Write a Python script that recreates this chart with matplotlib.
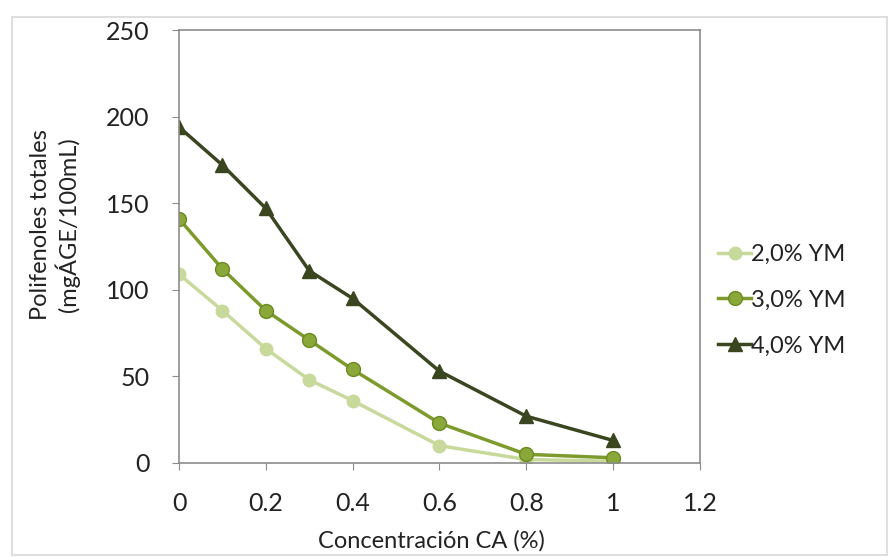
import matplotlib.pyplot as plt
from matplotlib.patches import Rectangle

# Data
conc = [0, 0.1, 0.2, 0.3, 0.4, 0.6, 0.8, 1.0]
ym_2 = [109, 88, 66, 48, 36, 10, 2, 1]
ym_3 = [141, 112, 88, 71, 54, 23, 5, 3]
ym_4 = [194, 172, 147, 111, 95, 53, 27, 13]
labels = ['2,0% YM', '3,0% YM', '4,0% YM']
xticks = [0, 0.2, 0.4, 0.6, 0.8, 1, 1.2]
xticklabels = ['0', '0.2', '0.4', '0.6', '0.8', '1', '1.2']
yticks = [0, 50, 100, 150, 200, 250]

plt.rcParams['font.family'] = ['Lato', 'DejaVu Sans']

fig = plt.figure(figsize=(8.92, 5.57), dpi=100)
ax = fig.add_axes([0.2007, 0.1688, 0.5840, 0.7772])

ax.plot(conc, ym_2, color='#c8d99c', lw=2.5, marker='o', ms=9, label=labels[0])
ax.plot(conc, ym_3, color='#7d9a2c', lw=2.5, marker='o', ms=10,
        mfc='#8aa83a', mec='#6b8a22', label=labels[1])
ax.plot(conc, ym_4, color='#3a4620', lw=2.5, marker='^', ms=10, label=labels[2])

ax.set_xlim(0, 1.2)
ax.set_ylim(0, 250)
ax.set_xticks(xticks)
ax.set_xticklabels(xticklabels)
ax.set_yticks(yticks)
ax.tick_params(direction='out', length=5, color='#8c8c8c', labelsize=18,
               labelcolor='#222222')
ax.tick_params(axis='y', pad=16)
ax.tick_params(axis='x', pad=16)
for s in ax.spines.values():
    s.set_color('#8c8c8c')
    s.set_linewidth(1.2)

ax.set_xlabel('Concentración CA (%)', fontsize=17, color='#222222')
ax.xaxis.set_label_coords(0.484, -0.155)
ax.set_ylabel('Polifenoles totales\n(mgÁGE/100mL)', fontsize=17,
              color='#222222', linespacing=1.15)
ax.yaxis.set_label_coords(-0.19, 0.55)

ax.legend(loc='center left', bbox_to_anchor=(1.035, 0.376), frameon=False,
          fontsize=17, handlelength=1.4, handletextpad=0.0, labelspacing=1.05,
          borderpad=0, borderaxespad=0, labelcolor='#222222')

# outer chart frame
fig.patches.append(Rectangle((0.014, 0.004), 0.98, 0.966, transform=fig.transFigure,
                             fill=False, edgecolor='#d8d8d8', lw=1.2))

fig.savefig('out.png', dpi=100)
